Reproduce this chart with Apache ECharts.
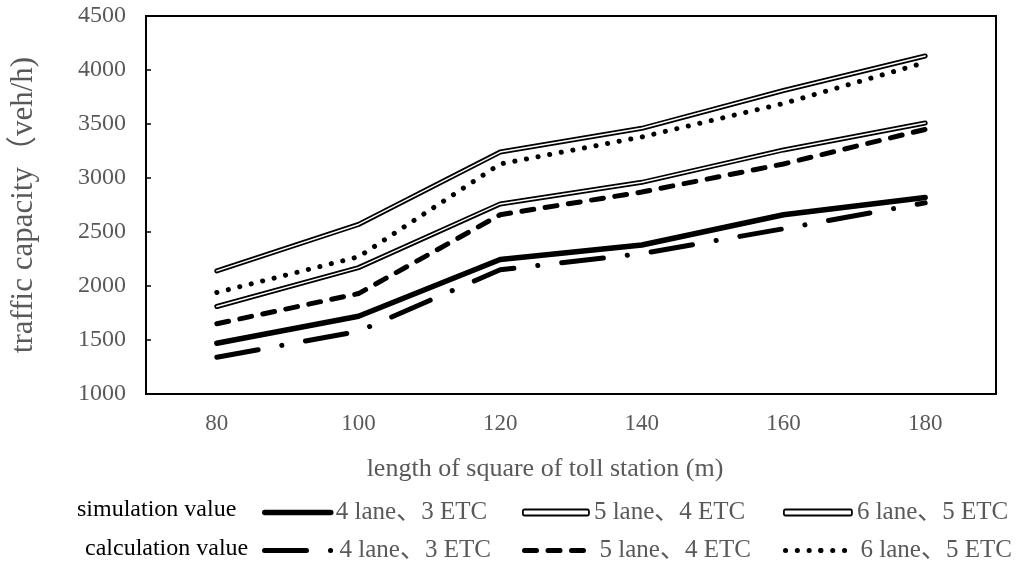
<!DOCTYPE html>
<html>
<head>
<meta charset="utf-8">
<script src="https://cdn.jsdelivr.net/npm/echarts@6/dist/echarts.min.js"></script>
<style>
  html, body { margin: 0; padding: 0; background: #fff; }
  #chart { width: 1016px; height: 571px; }
</style>
</head>
<body>
<div id="chart"></div>
<script>
// square length (m)
var lengths = ['80', '100', '120', '140', '160', '180'];
// simulation value
var sim4 = [1470, 1720, 2245, 2380, 2660, 2820];
var sim5 = [1810, 2170, 2760, 2960, 3260, 3510];
var sim6 = [2140, 2570, 3240, 3460, 3810, 4130];
// calculation value
var calc4 = [1340, 1580, 2150, 2300, 2530, 2770];
var calc5 = [1650, 1930, 2660, 2870, 3130, 3450];
var calc6 = [1940, 2270, 3130, 3380, 3690, 4070];
var laneLabels = {
  sim4: '4 lane、3 ETC', sim5: '5 lane、4 ETC', sim6: '6 lane、5 ETC',
  calc4: '4 lane、3 ETC', calc5: '5 lane、4 ETC', calc6: '6 lane、5 ETC'
};

var font = "'Liberation Serif', 'Times New Roman', 'Noto Sans CJK SC', serif";
var grey = '#595959';

function legendAt(name, left, top, w, icon) {
  var item = { name: name };
  if (icon) {
    item.icon = 'roundRect';
    item.itemStyle = { color: '#fff', borderColor: '#000', borderWidth: 1.8 };
  }
  return {
    data: [item],
    left: left,
    top: top,
    padding: 0,
    itemWidth: w,
    itemHeight: 6,
    selectedMode: false,
    formatter: function (n) { return laneLabels[n]; },
    textStyle: { fontFamily: font, fontSize: 25, color: grey },
    lineStyle: { width: 'inherit' }
  };
}

function line(name, data, width, type, color, z) {
  return {
    name: name,
    type: 'line',
    data: data,
    symbol: 'none',
    color: '#000',
    z: z || 2,
    lineStyle: { color: color || '#000', width: width, type: type || 'solid', cap: 'round', join: 'round' }
  };
}

var chart = echarts.init(document.getElementById('chart'));
chart.setOption({
  animation: false,
  backgroundColor: '#fff',
  grid: {
    left: 146, right: 20, top: 16, bottom: 177,
    show: true, borderColor: '#000', borderWidth: 2
  },
  graphic: [
    { type: 'text', left: 77, top: 498, style: { text: 'simulation value', font: '24px ' + font, fill: '#000' } },
    { type: 'text', left: 85, top: 537, style: { text: 'calculation value', font: '24px ' + font, fill: '#000' } }
  ],
  legend: [
    legendAt('sim4', 262, 500, 66),
    legendAt('sim5', 522, 500, 66, true),
    legendAt('sim6', 783, 500, 68, true),
    legendAt('calc4', 262, 538, 70),
    legendAt('calc5', 522, 538, 70),
    legendAt('calc6', 783, 538, 70)
  ],
  xAxis: {
    type: 'category',
    data: lengths,
    boundaryGap: true,
    name: 'length of square of toll station (m)',
    nameLocation: 'middle',
    nameGap: 62,
    nameTextStyle: { fontFamily: font, fontSize: 26, color: grey, padding: [0, 52, 0, 0] },
    axisLine: { lineStyle: { color: '#000', width: 2 } },
    axisTick: { inside: true, alignWithLabel: true, length: 4, lineStyle: { color: '#000', width: 1.5 } },
    axisLabel: { fontFamily: font, fontSize: 23, color: grey, margin: 18 }
  },
  yAxis: {
    type: 'value',
    min: 1000,
    max: 4500,
    interval: 500,
    name: 'traffic capacity（veh/h)',
    nameLocation: 'middle',
    nameGap: 107,
    nameTextStyle: { fontFamily: font, fontSize: 31, color: grey },
    axisLine: { show: true, lineStyle: { color: '#000', width: 2 } },
    axisTick: { show: true, inside: true, length: 5, lineStyle: { color: '#000', width: 1.5 } },
    splitLine: { show: false },
    axisLabel: {
      fontFamily: font, fontSize: 24, color: grey, margin: 20,
      formatter: function (v) { return String(v); }
    }
  },
  series: [
    line('sim4', sim4, 5.5),
    line('sim5', sim5, 5),
    line('sim5-core', sim5, 1.5, 'solid', '#fff', 3),
    line('sim6', sim6, 5),
    line('sim6-core', sim6, 1.5, 'solid', '#fff', 3),
    line('calc4', calc4, 5, [42, 24, 0.1, 24]),
    line('calc5', calc5, 5, [12, 11.5]),
    line('calc6', calc6, 5, [0.1, 11.7])
  ]
});
</script>
</body>
</html>
